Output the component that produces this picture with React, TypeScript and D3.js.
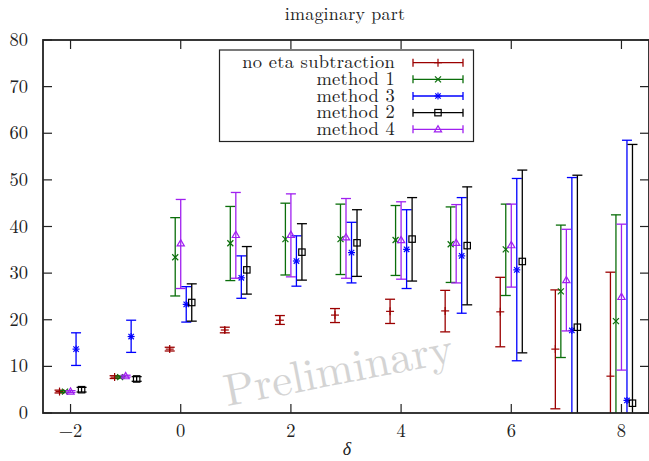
import React from "react";
import * as d3 from "d3";

const deltas = [-2, -1, 0, 1, 2, 3, 4, 5, 6, 7, 8];

// no eta subtraction
const noEtaVal = [4.6, 7.7, 13.7, 17.8, 19.9, 21.0, 21.8, 21.9, 21.7, 13.7, 7.9];
const noEtaLo = [4.3, 7.4, 13.3, 17.2, 19.0, 19.4, 19.2, 17.4, 14.2, 0.9, -14.4];
const noEtaHi = [4.9, 8.0, 14.1, 18.4, 20.9, 22.4, 24.4, 26.3, 29.1, 26.4, 30.2];
// method 1
const m1Val = [4.6, 7.7, 33.4, 36.4, 37.3, 37.3, 37.1, 36.2, 35.1, 26.1, 19.7];
const m1Lo = [4.4, 7.5, 25.1, 28.4, 29.6, 29.7, 29.5, 28.0, 25.2, 11.9, -3.1];
const m1Hi = [4.8, 7.9, 41.9, 44.3, 45.0, 44.8, 44.5, 44.2, 44.8, 40.3, 42.5];
// method 3
const m3Val = [13.7, 16.4, 23.3, 29.0, 32.6, 34.4, 35.1, 33.7, 30.7, 17.7, 2.7];
const m3Lo = [10.2, 13.0, 19.5, 24.6, 27.2, 27.9, 26.7, 21.4, 11.2, -15.1, -53.0];
const m3Hi = [17.2, 19.9, 27.1, 33.7, 38.0, 40.9, 43.6, 46.2, 50.3, 50.5, 58.5];
// method 2
const m2Val = [5.0, 7.3, 23.7, 30.7, 34.5, 36.5, 37.3, 35.9, 32.5, 18.4, 2.1];
const m2Lo = [4.5, 6.8, 19.7, 25.5, 28.5, 29.3, 28.3, 23.2, 12.9, -14.2, -53.4];
const m2Hi = [5.5, 7.8, 27.7, 35.7, 40.6, 43.6, 46.2, 48.5, 52.1, 51.0, 57.6];
// method 4
const m4Val = [4.6, 7.9, 36.4, 38.2, 38.2, 37.7, 37.1, 36.5, 36.0, 28.5, 24.9];
const m4Lo = [4.4, 7.7, 26.7, 28.9, 29.2, 28.9, 28.7, 27.9, 27.0, 17.6, 9.2];
const m4Hi = [4.8, 8.1, 45.8, 47.3, 47.0, 46.0, 45.3, 44.7, 44.8, 39.4, 40.5];

const xTicks = [-2, 0, 2, 4, 6, 8];
const yTicks = [0, 10, 20, 30, 40, 50, 60, 70, 80];

type Marker = "plus" | "cross" | "star" | "square" | "triangle";

const series = [
  { name: "no eta subtraction", color: "#9b0000", marker: "plus" as Marker, offset: -0.2, val: noEtaVal, lo: noEtaLo, hi: noEtaHi },
  { name: "method 1", color: "#0a6e0a", marker: "cross" as Marker, offset: -0.1, val: m1Val, lo: m1Lo, hi: m1Hi },
  { name: "method 3", color: "#0000ff", marker: "star" as Marker, offset: 0.1, val: m3Val, lo: m3Lo, hi: m3Hi },
  { name: "method 2", color: "#000000", marker: "square" as Marker, offset: 0.2, val: m2Val, lo: m2Lo, hi: m2Hi },
  { name: "method 4", color: "#a020f0", marker: "triangle" as Marker, offset: 0.0, val: m4Val, lo: m4Lo, hi: m4Hi },
];

const W = 649, H = 461;
const L = 43, R = 649, T = 40, B = 413;
const FONT = "Latin Modern Roman";

function MarkerShape({ type, x, y, color }: { type: Marker; x: number; y: number; color: string }) {
  const sw = 1.2;
  if (type === "plus") {
    return (
      <g stroke={color} strokeWidth={sw}>
        <line x1={x - 4} x2={x + 4} y1={y} y2={y} />
        <line x1={x} x2={x} y1={y - 4} y2={y + 4} />
      </g>
    );
  }
  if (type === "cross") {
    return (
      <g stroke={color} strokeWidth={sw}>
        <line x1={x - 3} x2={x + 3} y1={y - 3} y2={y + 3} />
        <line x1={x - 3} x2={x + 3} y1={y + 3} y2={y - 3} />
      </g>
    );
  }
  if (type === "star") {
    return (
      <g stroke={color} strokeWidth={sw}>
        <line x1={x - 3.5} x2={x + 3.5} y1={y} y2={y} />
        <line x1={x} x2={x} y1={y - 3.5} y2={y + 3.5} />
        <line x1={x - 2.7} x2={x + 2.7} y1={y - 2.7} y2={y + 2.7} />
        <line x1={x - 2.7} x2={x + 2.7} y1={y + 2.7} y2={y - 2.7} />
      </g>
    );
  }
  if (type === "square") {
    return <rect x={x - 3.2} y={y - 3.2} width={6.4} height={6.4} fill="none" stroke={color} strokeWidth={sw} />;
  }
  return (
    <path d={`M${x - 3.6},${y + 2.6} L${x + 3.6},${y + 2.6} L${x},${y - 3.6} Z`} fill="none" stroke={color} strokeWidth={sw} />
  );
}

export default function App() {
  const x = d3.scaleLinear().domain([-2.5, 8.5]).range([L, R]);
  const y = d3.scaleLinear().domain([0, 80]).range([B, T]);
  const cap = 5;

  const legendX1 = 413, legendX2 = 463, legendTextX = 395;
  const legendY0 = 62.7, legendDy = 16.65;
  const ff = { fontFamily: FONT };

  return (
    <svg width={W} height={H} style={{ display: "block", position: "absolute", left: 0, top: 0 }}>
      <defs>
        <clipPath id="plotclip">
          <rect x={L} y={T} width={R - L} height={B - T} />
        </clipPath>
      </defs>
      <rect x={0} y={0} width={W} height={H} fill="#fff" />

      {/* title */}
      <text x={345} y={19.5} textAnchor="middle" fontSize={18} letterSpacing={0.2} fill="#222" style={ff}>imaginary part</text>

      {/* watermark */}
      <text transform="translate(341,384) rotate(-11)" textAnchor="middle" fontSize={45} fill="#d4d4d4" style={ff}>Preliminary</text>

      {/* data */}
      <g clipPath="url(#plotclip)">
        {series.map((s) => (
          <g key={s.name}>
            {deltas.map((d, i) => {
              const cx = x(d + s.offset);
              const yl = y(s.lo[i]);
              const yh = y(s.hi[i]);
              return (
                <g key={i} stroke={s.color} strokeWidth={1.3}>
                  <line x1={cx} x2={cx} y1={yl} y2={yh} />
                  <line x1={cx - cap} x2={cx + cap} y1={yl} y2={yl} />
                  <line x1={cx - cap} x2={cx + cap} y1={yh} y2={yh} />
                </g>
              );
            })}
            {deltas.map((d, i) => (
              <MarkerShape key={"m" + i} type={s.marker} x={x(d + s.offset)} y={y(s.val[i])} color={s.color} />
            ))}
          </g>
        ))}
      </g>

      {/* ticks */}
      <g stroke="#222" strokeWidth={1.2}>
        {yTicks.map((t) => (
          <g key={"y" + t}>
            <line x1={L} x2={L + 9} y1={y(t)} y2={y(t)} />
            <line x1={R - 9} x2={R} y1={y(t)} y2={y(t)} />
          </g>
        ))}
        {xTicks.map((t) => (
          <g key={"x" + t}>
            <line x1={x(t)} x2={x(t)} y1={B} y2={B - 9} />
            <line x1={x(t)} x2={x(t)} y1={T} y2={T + 9} />
          </g>
        ))}
      </g>

      {/* frame */}
      <rect x={L} y={T} width={R - L} height={B - T} fill="none" stroke="#222" strokeWidth={1.8} />

      {/* tick labels */}
      {yTicks.map((t) => (
        <text key={"yl" + t} x={28} y={y(t) + 6} textAnchor="end" fontSize={18.5} fill="#222" style={ff}>{t}</text>
      ))}
      {xTicks.map((t) => (
        <text key={"xl" + t} x={x(t)} y={437} textAnchor="middle" fontSize={18.5} fill="#222" style={ff}>{t < 0 ? "\u2212" + Math.abs(t) : t}</text>
      ))}
      <text x={347} y={455} textAnchor="middle" fontSize={18} fontStyle="italic" fill="#222" style={ff}>δ</text>

      {/* legend */}
      <rect x={219.5} y={50} width={254} height={91.5} fill="#fff" stroke="#222" strokeWidth={1.2} />
      {series.map((s, i) => {
        const ly = legendY0 + i * legendDy;
        const mx = (legendX1 + legendX2) / 2;
        return (
          <g key={"lg" + s.name}>
            <text x={legendTextX} y={ly + 5.5} textAnchor="end" fontSize={18.5} letterSpacing={0.25} fill="#222" style={ff}>{s.name}</text>
            <g stroke={s.color} strokeWidth={1.3}>
              <line x1={legendX1} x2={legendX2} y1={ly} y2={ly} />
              <line x1={legendX1} x2={legendX1} y1={ly - 4} y2={ly + 4} />
              <line x1={legendX2} x2={legendX2} y1={ly - 4} y2={ly + 4} />
            </g>
            <MarkerShape type={s.marker} x={mx} y={ly} color={s.color} />
          </g>
        );
      })}
    </svg>
  );
}
